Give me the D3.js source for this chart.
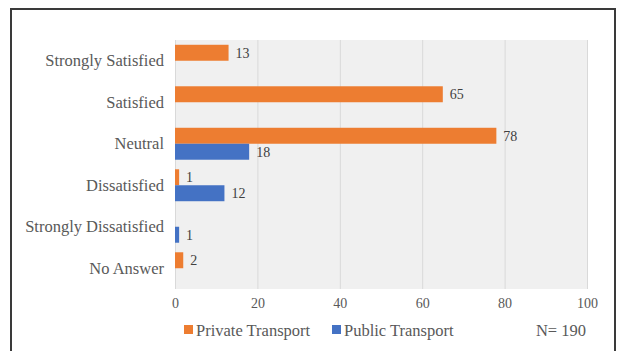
<!DOCTYPE html>
<html>
<head>
<meta charset="utf-8">
<script src="https://cdn.jsdelivr.net/npm/d3@7"></script>
<style>
  html, body { margin: 0; padding: 0; background: #fff; }
  svg { display: block; }
</style>
</head>
<body>
<svg id="chart" width="619" height="351"></svg>
<script>
// Satisfaction levels and respondent counts per transport mode
const categories = ["Strongly Satisfied", "Satisfied", "Neutral", "Dissatisfied", "Strongly Dissatisfied", "No Answer"];
const privateTransport = [13, 65, 78, 1, null, 2];
const publicTransport = [null, null, 18, 12, 1, null];
const seriesNames = ["Private Transport", "Public Transport"];
const seriesColors = ["#ED7D31", "#4472C4"];
const xTicks = [0, 20, 40, 60, 80, 100];
const sampleNote = "N= 190";

const svg = d3.select("#chart");
const font = "'Liberation Serif', 'Times New Roman', serif";
const textColor = "#595959";

const plot = { left: 175, right: 587, top: 40, bottom: 289 };

// outer frame
svg.append("path")
  .attr("d", "M11,360 V9 H615 V360")
  .attr("fill", "none")
  .attr("stroke", "#3a3a3a")
  .attr("stroke-width", 2);

const x = d3.scaleLinear().domain([0, 100]).range([plot.left, plot.right]);
const y = d3.scaleBand().domain(categories).range([plot.top, plot.bottom]).paddingInner(0.23).paddingOuter(0.115);
const ySub = d3.scaleBand().domain(seriesNames).range([0, y.bandwidth()]);

// plot background
svg.append("rect")
  .attr("x", plot.left).attr("y", plot.top)
  .attr("width", plot.right - plot.left).attr("height", plot.bottom - plot.top)
  .attr("fill", "#f0f0f0");

// vertical gridlines + tick labels via axis
const xAxis = d3.axisBottom(x).tickValues(xTicks).tickSize(-(plot.bottom - plot.top)).tickPadding(9);
const gx = svg.append("g").attr("transform", `translate(0,${plot.bottom})`).call(xAxis);
gx.select(".domain").remove();
gx.selectAll(".tick line").attr("stroke", "#d9d9d9").attr("stroke-width", 1);
gx.selectAll(".tick text")
  .attr("font-family", font).attr("font-size", 14).attr("fill", textColor);

// category labels
const yAxis = d3.axisLeft(y).tickSize(0).tickPadding(11);
const gy = svg.append("g").attr("transform", `translate(${plot.left},0)`).call(yAxis);
gy.select(".domain").remove();
gy.selectAll(".tick text")
  .attr("font-family", font).attr("font-size", 16.5).attr("fill", textColor);

// bars
const rows = categories.map((c, i) => ({
  category: c,
  values: [
    { series: seriesNames[0], value: privateTransport[i], color: seriesColors[0] },
    { series: seriesNames[1], value: publicTransport[i], color: seriesColors[1] }
  ].filter(d => d.value != null)
}));

const groups = svg.append("g").selectAll("g")
  .data(rows).join("g")
  .attr("transform", d => `translate(0,${y(d.category)})`);

groups.selectAll("rect")
  .data(d => d.values).join("rect")
  .attr("x", x(0))
  .attr("y", d => ySub(d.series))
  .attr("width", d => x(d.value) - x(0))
  .attr("height", ySub.bandwidth())
  .attr("fill", d => d.color);

groups.selectAll("text")
  .data(d => d.values).join("text")
  .attr("x", d => x(d.value) + 7)
  .attr("y", d => ySub(d.series) + ySub.bandwidth() / 2)
  .attr("dy", "0.35em")
  .attr("font-family", font).attr("font-size", 14).attr("fill", "#404040")
  .text(d => d.value);

// legend
const legendItems = [
  { name: seriesNames[0], color: seriesColors[0], x: 184 },
  { name: seriesNames[1], color: seriesColors[1], x: 332 }
];
const legY = 330;
const leg = svg.append("g").selectAll("g").data(legendItems).join("g")
  .attr("transform", d => `translate(${d.x},${legY})`);
leg.append("rect").attr("x", 0).attr("y", -5).attr("width", 9).attr("height", 9).attr("fill", d => d.color);
leg.append("text").attr("x", 12).attr("y", 0).attr("dy", "0.35em")
  .attr("font-family", font).attr("font-size", 16.5).attr("fill", textColor)
  .text(d => d.name);

svg.append("text")
  .attr("x", 586).attr("y", legY).attr("dy", "0.35em")
  .attr("text-anchor", "end")
  .attr("font-family", font).attr("font-size", 16.5).attr("fill", textColor)
  .text(sampleNote);
</script>
</body>
</html>
